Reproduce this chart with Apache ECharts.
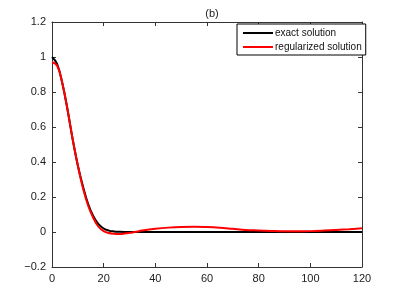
<!DOCTYPE html>
<html><head><meta charset="utf-8">
<script src="https://cdn.jsdelivr.net/npm/echarts@6/dist/echarts.min.js"></script>
<style>html,body{margin:0;padding:0;background:#fff}#c{width:401px;height:301px}</style>
</head><body><div id="c"></div>
<script>
var title = '(b)';
var seriesNames = ['exact solution', 'regularized solution'];
var exactX = [0,2,4,6,8,10,12,14,16,18,20,22,24,26,28,30,40,60,80,100,120];
var exactY = [1.0,0.96,0.85,0.70,0.53,0.38,0.26,0.16,0.09,0.045,0.02,0.008,0.003,0.001,0,0,0,0,0,0,0];
var regX = [0,2,4,6,8,10,12,14,16,18,20,22,24,26,28,30,32,35,40,45,50,55,60,65,70,75,80,85,90,95,100,105,110,115,120];
var regY = [0.97,0.95,0.85,0.70,0.53,0.38,0.25,0.15,0.08,0.03,0.005,-0.006,-0.01,-0.011,-0.009,-0.005,0,0.008,0.018,0.025,0.029,0.03,0.028,0.024,0.018,0.012,0.009,0.006,0.004,0.004,0.005,0.008,0.012,0.016,0.021];
var xTicks = [0,20,40,60,80,100,120];
var yTicks = [-0.2,0,0.2,0.4,0.6,0.8,1,1.2];

function pairs(xs, ys){ return xs.map(function(x,i){return [x, ys[i]];}); }
function fmt(v){ var s = String(Math.round(v*10)/10); return s.replace('-', '\u2212'); }

var font = 'Liberation Sans, Arial, sans-serif';
var axisCol = '#333';
var chart = echarts.init(document.getElementById('c'), null, {renderer:'canvas'});
var baseX = {type:'value', min:0, max:120, interval:20,
  axisLine:{show:true, onZero:false, lineStyle:{color:axisCol, width:1}},
  axisTick:{show:true, inside:true, length:4, lineStyle:{color:axisCol}},
  splitLine:{show:false}};
var baseY = {type:'value', min:-0.2, max:1.2, interval:0.2,
  axisLine:{show:true, onZero:false, lineStyle:{color:axisCol, width:1}},
  axisTick:{show:true, inside:true, length:4, lineStyle:{color:axisCol}},
  splitLine:{show:false}};
chart.setOption({
  animation:false,
  backgroundColor:'#fff',
  title:{text:title, left:207, top:3, textAlign:'center',
    textStyle:{fontFamily:font, fontSize:11, fontWeight:'normal', color:'#222'}},
  grid:{left:52, right:39, top:22, bottom:34, containLabel:false},
  legend:{orient:'vertical', left:237, top:24, width:120,
    data:seriesNames, icon:'rect', itemWidth:30, itemHeight:2, itemGap:4,
    padding:[4,4,3,6], borderColor:'#000', borderWidth:1, backgroundColor:'#fff',
    textStyle:{fontFamily:font, fontSize:10, color:'#111', padding:[0,0,0,-3]}},
  xAxis:[
    Object.assign({}, baseX, {position:'bottom',
      axisLabel:{fontFamily:font, fontSize:11, color:'#222', margin:6, formatter:fmt}}),
    Object.assign({}, baseX, {position:'top', axisLabel:{show:false}})
  ],
  yAxis:[
    Object.assign({}, baseY, {position:'left',
      axisLabel:{fontFamily:font, fontSize:11, color:'#222', margin:6, formatter:fmt}}),
    Object.assign({}, baseY, {position:'right', axisLabel:{show:false}})
  ],
  series:[
    {name:seriesNames[0], type:'line', data:pairs(exactX, exactY), smooth:0.4, showSymbol:false,
      lineStyle:{color:'#000', width:2}, itemStyle:{color:'#000'}, z:2},
    {name:seriesNames[1], type:'line', data:pairs(regX, regY), smooth:0.4, showSymbol:false,
      lineStyle:{color:'#ff0000', width:2}, itemStyle:{color:'#ff0000'}, z:3}
  ]
});
</script></body></html>
